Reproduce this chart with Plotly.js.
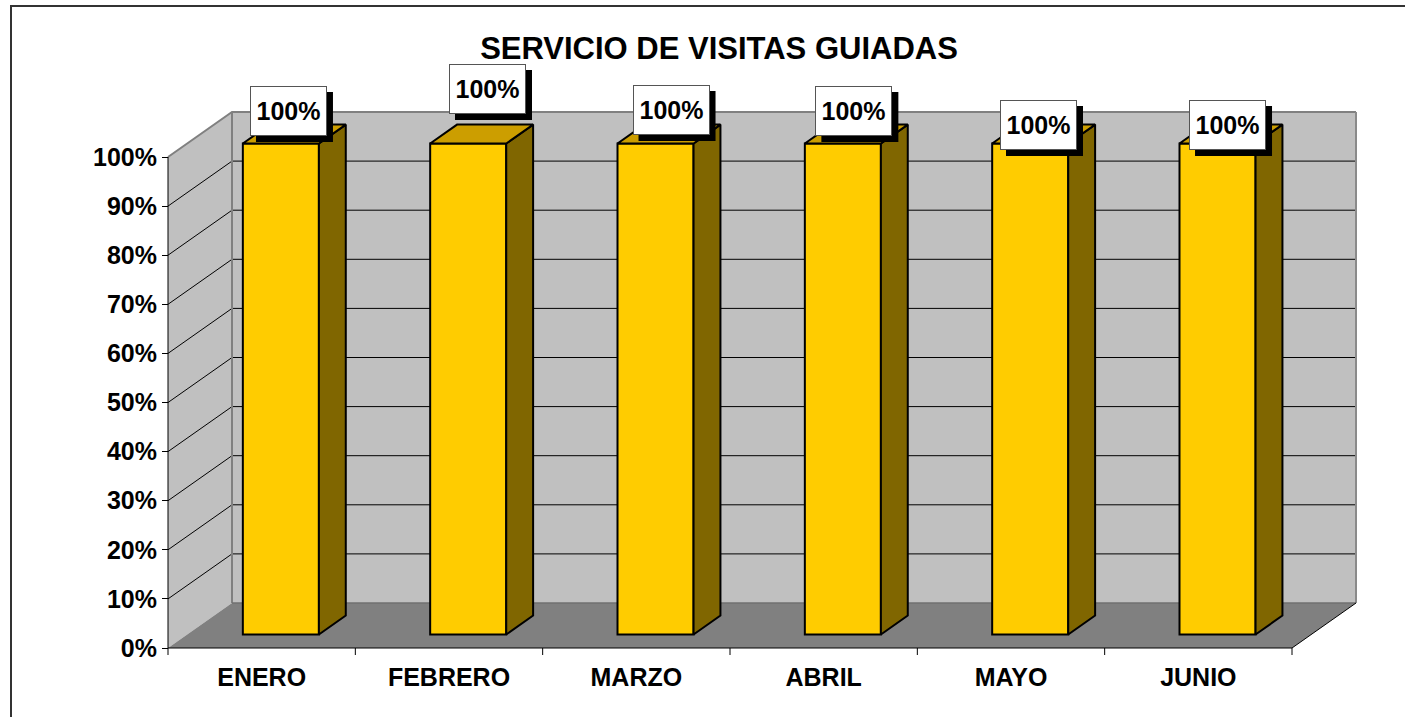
<!DOCTYPE html>
<html><head><meta charset="utf-8">
<script src="https://cdn.plot.ly/plotly-3.0.1.min.js"></script>
<style>html,body{margin:0;padding:0;background:#fff}#chart{width:1405px;height:717px}</style>
</head><body><div id="chart"></div>
<script>
// ---- data ----
const months = ['ENERO', 'FEBRERO', 'MARZO', 'ABRIL', 'MAYO', 'JUNIO'];
const values = [1, 1, 1, 1, 1, 1];
const yTickVals = [0, 0.1, 0.2, 0.3, 0.4, 0.5, 0.6, 0.7, 0.8, 0.9, 1];
const yTickText = ['0%', '10%', '20%', '30%', '40%', '50%', '60%', '70%', '80%', '90%', '100%'];
const chartTitle = 'SERVICIO DE VISITAS GUIADAS';

// ---- label box placement (pixels, relative to bar top) ----
const labelShiftX = [7.6, 19.3, 15.5, 11, 8.3, 10];
const labelShiftY = [32.5, 54.5, 33.5, 32.5, 18.5, 18.5];

// ---- 3D projection helpers (data units) ----
const N = months.length;
const DX = 64 / 187.333;   // depth offset along x
const DY = 45 / 491;       // depth offset along y
const D0 = 0.30, D1 = 0.72; // bar front / back depth fraction
const HALF = 0.203;         // bar half width
const FONT = 'Liberation Sans, Arial, sans-serif';
const BOXW = 77, BOXH = 50, SH = 6;

function P(x, y, d) { return [x + d * DX, y + d * DY]; }

// walls & grid
const shapes = [];
function poly(pts, fill) {
  let path = 'M ' + pts.map(p => p[0] + ',' + p[1]).join(' L ') + ' Z';
  shapes.push({type: 'path', xref: 'x', yref: 'y', path: path, fillcolor: fill,
    line: {color: 'rgba(0,0,0,0)', width: 0}, layer: 'below'});
}
function seg(pts, color, w) {
  let path = 'M ' + pts.map(p => p[0] + ',' + p[1]).join(' L ');
  shapes.push({type: 'path', xref: 'x', yref: 'y', path: path,
    line: {color: color, width: w}, layer: 'below'});
}
const yMax = yTickVals[yTickVals.length - 1];
poly([P(0, 0, 0), P(0, yMax, 0), P(0, yMax, 1), P(0, 0, 1)], '#C0C0C0');   // left wall
poly([P(0, 0, 1), P(0, yMax, 1), P(N, yMax, 1), P(N, 0, 1)], '#C0C0C0');   // back wall
poly([P(0, 0, 0), P(0, 0, 1), P(N, 0, 1), P(N, 0, 0)], '#808080');         // floor
yTickVals.forEach(v => {
  if (v > 0 && v < yMax) seg([P(0, v, 0), P(0, v, 1), P(N, v, 1)], '#000000', 1);
});
seg([P(0, yMax, 0), P(0, yMax, 1), P(N, yMax, 1)], '#808080', 2);
seg([P(0, 0, 1), P(0, yMax, 1)], '#808080', 2);
seg([P(N, 0, 1), P(N, yMax, 1)], '#8a8a8a', 2);
seg([P(0, 0, 1), P(N, 0, 1)], '#707070', 1.5);
seg([P(N, 0, 0), P(N, 0, 1)], '#000000', 1);
seg([P(0, 0, 0), P(0, yMax, 0)], '#000000', 1);
seg([P(0, 0, 0), P(N, 0, 0)], '#000000', 1);
for (let i = 0; i <= N; i++) {
  shapes.push({type: 'line', xref: 'x', yref: 'y', x0: i, x1: i, y0: 0, y1: -7 / 491,
    line: {color: '#000', width: 1}, layer: 'above'});
}
shapes.push({type: 'rect', xref: 'paper', yref: 'paper', x0: 11 / 1405, x1: 1.01,
  y0: -0.01, y1: 1 - 6 / 717, line: {color: '#333', width: 2}, fillcolor: 'rgba(0,0,0,0)'});

// bars
const centers = months.map((m, i) => i + 0.5);
const frontTrace = {
  type: 'bar', x: centers.map(c => c + D0 * DX), y: values, base: values.map(() => D0 * DY),
  width: 2 * HALF, marker: {color: '#FFCC00', line: {color: '#000', width: 2}},
  hoverinfo: 'skip', showlegend: false
};
const sx = [], sy = [], tx = [], ty = [];
values.forEach((v, i) => {
  const c = centers[i];
  [P(c + HALF, 0, D0), P(c + HALF, 0, D1), P(c + HALF, v, D1), P(c + HALF, v, D0), P(c + HALF, 0, D0)]
    .forEach(p => { sx.push(p[0]); sy.push(p[1]); });
  sx.push(null); sy.push(null);
  [P(c - HALF, v, D0), P(c + HALF, v, D0), P(c + HALF, v, D1), P(c - HALF, v, D1), P(c - HALF, v, D0)]
    .forEach(p => { tx.push(p[0]); ty.push(p[1]); });
  tx.push(null); ty.push(null);
});
const sideTrace = {type: 'scatter', mode: 'lines', x: sx, y: sy, fill: 'toself', fillcolor: '#806600',
  line: {color: '#000', width: 2}, hoverinfo: 'skip', showlegend: false};
const topTrace = {type: 'scatter', mode: 'lines', x: tx, y: ty, fill: 'toself', fillcolor: '#CC9E00',
  line: {color: '#000', width: 2}, hoverinfo: 'skip', showlegend: false};

// labels: black drop shadow (shape) + white box (annotation)
const annotations = [];
values.forEach((v, i) => {
  const p = P(centers[i], v, D0);
  const cx = labelShiftX[i] + SH, cy = labelShiftY[i] - SH;
  shapes.push({type: 'rect', xref: 'x', yref: 'y', xsizemode: 'pixel', ysizemode: 'pixel',
    xanchor: p[0], yanchor: p[1], x0: cx - BOXW / 2, x1: cx + BOXW / 2, y0: cy - BOXH / 2, y1: cy + BOXH / 2,
    fillcolor: '#000', line: {width: 0}, layer: 'above'});
  annotations.push({xref: 'x', yref: 'y', x: p[0], y: p[1], text: Math.round(v * 100) + '%', showarrow: false,
    width: BOXW - 2, height: BOXH - 2, borderwidth: 1, borderpad: 0, xanchor: 'center', yanchor: 'middle',
    xshift: labelShiftX[i], yshift: labelShiftY[i], bgcolor: '#fff', bordercolor: '#555',
    font: {family: FONT, size: 25, color: '#000', weight: 'bold'}});
});

const layout = {
  width: 1405, height: 717,
  margin: {l: 0, r: 0, t: 0, b: 0},
  paper_bgcolor: '#fff', plot_bgcolor: 'rgba(0,0,0,0)',
  title: {text: chartTitle, x: 719 / 1405, xanchor: 'center', y: 1 - 48 / 717, yanchor: 'middle',
    font: {family: FONT, size: 31, color: '#000', weight: 'bold'}},
  xaxis: {range: [-168 / 187.333, (1405 - 168) / 187.333], anchor: 'free', position: 69 / 717,
    tickvals: centers, ticktext: months, ticks: '', showline: false, showgrid: false, zeroline: false,
    tickfont: {family: FONT, size: 25, color: '#000', weight: 'bold'}, ticklabelstandoff: 12,
    fixedrange: true},
  yaxis: {range: [-69 / 491, 648 / 491], anchor: 'free', position: 168 / 1405,
    tickvals: yTickVals, ticktext: yTickText, ticks: 'outside', ticklen: 6, tickcolor: '#000', tickwidth: 1,
    showline: false, showgrid: false, zeroline: false,
    tickfont: {family: FONT, size: 25, color: '#000', weight: 'bold'}, fixedrange: true},
  shapes: shapes,
  annotations: annotations,
  showlegend: false
};

Plotly.newPlot('chart', [frontTrace, sideTrace, topTrace], layout, {displayModeBar: false, staticPlot: true});
</script>
</body></html>
